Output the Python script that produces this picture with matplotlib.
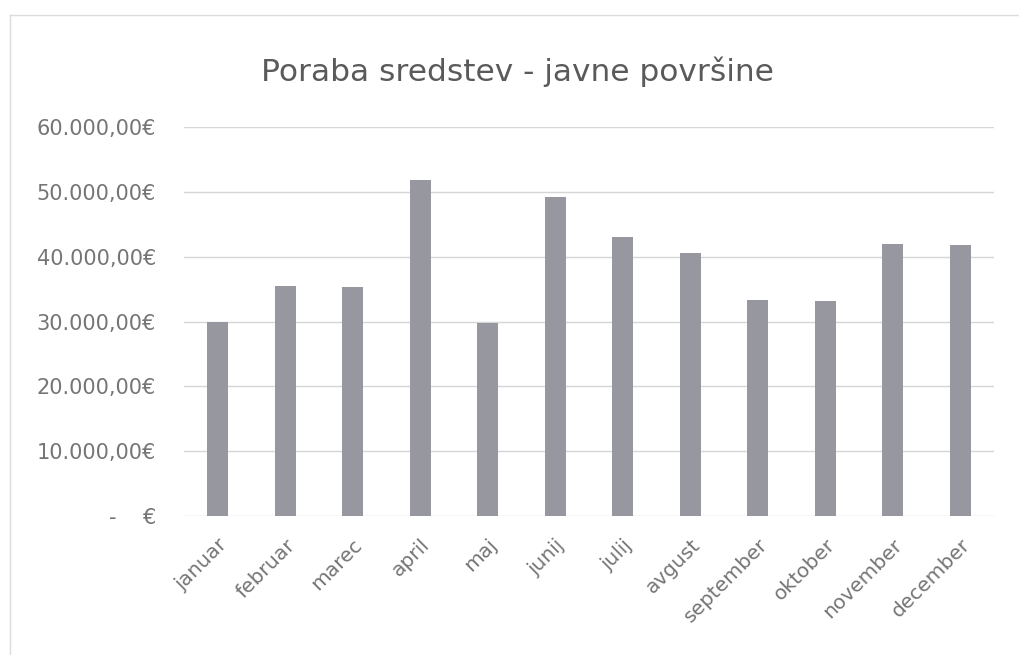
import matplotlib.pyplot as plt
from matplotlib.lines import Line2D

months = ['januar', 'februar', 'marec', 'april', 'maj', 'junij',
          'julij', 'avgust', 'september', 'oktober', 'november', 'december']
poraba = [30000, 35400, 35300, 51800, 29700, 49200,
          43000, 40600, 33300, 33100, 42000, 41800]
y_ticks = [0, 10000, 20000, 30000, 40000, 50000, 60000]
y_labels = ['-    €', '10.000,00€', '20.000,00€', '30.000,00€',
            '40.000,00€', '50.000,00€', '60.000,00€']

plt.rcParams['font.family'] = ['DejaVu Sans']
text_col = '#757575'

fig = plt.figure(figsize=(10.19, 6.55), dpi=100)
ax = fig.add_axes([184 / 1019, 1 - 516 / 655, 810 / 1019, 389 / 655])

x = range(len(months))
ax.bar(x, poraba, width=0.31, color='#97979f', zorder=3)

ax.set_xlim(-0.5, len(months) - 0.5)
ax.set_ylim(0, 60000)
ax.set_yticks(y_ticks)
ax.set_yticklabels(y_labels, fontsize=15, color=text_col)
ax.set_xticks(list(x))
ax.set_xticklabels(months, rotation=45, ha='right', rotation_mode='anchor',
                   fontsize=14.5, color=text_col)
ax.tick_params(axis='y', length=0, pad=20)
ax.tick_params(axis='x', length=0, pad=14)
ax.grid(axis='y', color='#d6d6d6', linewidth=1, zorder=0)
for s in ax.spines.values():
    s.set_visible(False)

fig.text(0.508, 1 - 72 / 655, 'Poraba sredstev - javne površine',
         ha='center', va='center', fontsize=22.5, color='#5a5a5a')

# faint chart frame from the scan
fig.add_artist(Line2D([10 / 1019, 1], [1 - 15 / 655, 1 - 15 / 655],
                      color='#dcdcdc', lw=1, transform=fig.transFigure))
fig.add_artist(Line2D([10 / 1019, 10 / 1019], [0, 1 - 15 / 655],
                      color='#dcdcdc', lw=1, transform=fig.transFigure))

fig.savefig('out.png', dpi=100)
